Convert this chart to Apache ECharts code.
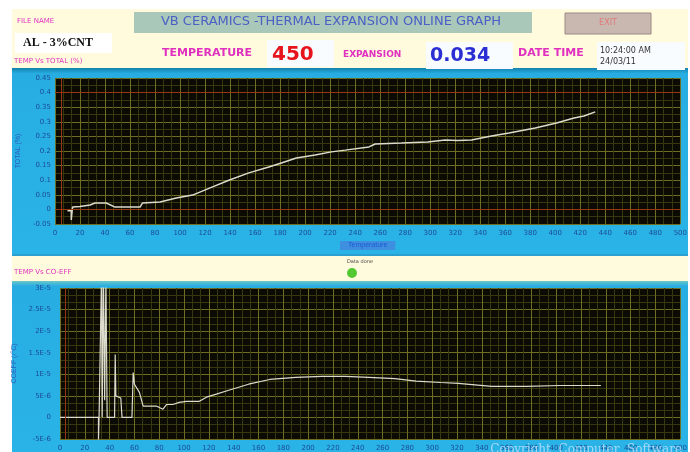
<!DOCTYPE html>
<html>
<head>
<meta charset="utf-8">
<script src="https://cdn.jsdelivr.net/npm/echarts/dist/echarts.min.js"></script>
<style>
  html, body { margin: 0; padding: 0; background: #fff; }
  #main { width: 690px; height: 452px; }
</style>
</head>
<body>
<div id="main"></div>
<script>
// temperature vs total expansion (%)
const tempTotal = [10, 13, 13, 14, 20, 28, 32, 41, 48, 68, 70, 84, 97, 110, 126, 139, 155, 171, 181, 193, 208, 221, 232, 251, 256, 277, 298, 312, 322, 333, 349, 363, 384, 401, 415, 423, 432]
const totalVals = [-0.005, -0.005, -0.036, 0.008, 0.01, 0.015, 0.022, 0.022, 0.008, 0.008, 0.022, 0.025, 0.039, 0.049, 0.077, 0.1, 0.125, 0.145, 0.159, 0.176, 0.186, 0.197, 0.203, 0.214, 0.224, 0.227, 0.231, 0.238, 0.236, 0.238, 0.251, 0.262, 0.279, 0.296, 0.313, 0.32, 0.334]

// temperature vs co-efficient (x 1E-6)
const tempCoeff = [0, 31, 31, 31.5, 33, 33.5, 34, 35, 36, 37, 38, 44, 44.5, 45, 49, 50, 50, 58, 59, 60, 64, 67, 78, 83, 86, 91, 96, 102, 112, 118, 126, 136, 152, 169, 190, 211, 230, 249, 270, 287, 307, 321, 348, 376, 403, 436]
const coeffVals = [0, 0, -5.5, 0, 0, 34, 0, 34, 4, 32, 0, 0, 14.6, 5, 4.5, 4.5, 0, 0, 10.4, 7.7, 5.8, 2.6, 2.6, 1.9, 3, 3, 3.5, 3.7, 3.7, 4.7, 5.4, 6.3, 7.7, 8.8, 9.3, 9.5, 9.5, 9.3, 9.0, 8.4, 8.1, 7.9, 7.2, 7.2, 7.4, 7.4]

const header = {
  fileName: 'AL - 3%CNT',
  title: 'VB CERAMICS -THERMAL EXPANSION ONLINE GRAPH',
  temperature: '450',
  expansion: '0.034',
  time: '10:24:00 AM',
  date: '24/03/11'
}

const pink = '#e030c0'
const labelBlue = '#1d4b95'
const majorGrid = '#6e6e22'
const minorGrid = '#38380f'

const coeffFmt = function (v) {
  if (v === 0) return '0'
  if (Math.abs(v) < 10) return v + 'E-6'
  return (v / 10) + 'E-5'
}

const toPairs = (xs, ys) => xs.map((x, i) => [x, ys[i]])

const xAxisBase = (idx) => ({
  gridIndex: idx,
  type: 'value',
  min: 0,
  max: 500,
  interval: 20,
  axisLine: { show: false },
  axisTick: { show: false },
  axisLabel: { color: labelBlue, fontSize: 7, margin: 6, fontFamily: 'DejaVu Sans' },
  splitLine: { show: true, lineStyle: { color: majorGrid, width: 1 } },
  minorTick: { show: false, splitNumber: 3 },
  minorSplitLine: { show: true, lineStyle: { color: minorGrid, width: 1 } }
})

const redLine = {
  symbol: 'none',
  silent: true,
  label: { show: false },
  lineStyle: { color: '#9a3414', type: 'solid', width: 1 }
}

const chart = echarts.init(document.getElementById('main'))
chart.setOption({
  animation: false,
  backgroundColor: '#ffffff',
  grid: [
    { left: 55, top: 78, width: 628, height: 146, show: true, backgroundColor: '#0b0b04', borderWidth: 0 },
    { left: 60, top: 288, width: 623, height: 152, show: true, backgroundColor: '#0b0b04', borderWidth: 0 }
  ],
  xAxis: [
    Object.assign(xAxisBase(0), {
      name: 'Temperature',
      nameLocation: 'middle',
      nameGap: 17,
      nameTextStyle: { color: '#1f5ad0', fontSize: 7, backgroundColor: '#3f8fe0', padding: [1, 8] }
    }),
    xAxisBase(1)
  ],
  yAxis: [
    {
      gridIndex: 0,
      type: 'value',
      min: -0.05,
      max: 0.45,
      interval: 0.05,
      name: 'TOTAL (%)',
      nameLocation: 'middle',
      nameGap: 30,
      nameTextStyle: { color: '#2a62c0', fontSize: 7 },
      axisLine: { show: false },
      axisTick: { show: false },
      axisLabel: { color: labelBlue, fontSize: 7, margin: 4, fontFamily: 'DejaVu Sans' },
      splitLine: { show: true, lineStyle: { color: majorGrid } },
      minorTick: { show: false, splitNumber: 2 },
      minorSplitLine: { show: true, lineStyle: { color: minorGrid } }
    },
    {
      gridIndex: 1,
      type: 'value',
      min: -5,
      max: 30,
      interval: 5,
      name: 'COEFF (/°C)',
      nameLocation: 'middle',
      nameGap: 35,
      nameTextStyle: { color: '#2a62c0', fontSize: 7 },
      axisLine: { show: false },
      axisTick: { show: false },
      axisLabel: { color: labelBlue, fontSize: 7, margin: 9, formatter: coeffFmt, fontFamily: 'DejaVu Sans' },
      splitLine: { show: true, lineStyle: { color: majorGrid } },
      minorTick: { show: false, splitNumber: 3 },
      minorSplitLine: { show: true, lineStyle: { color: minorGrid } }
    }
  ],
  series: [
    {
      name: 'TOTAL',
      type: 'line',
      xAxisIndex: 0,
      yAxisIndex: 0,
      data: toPairs(tempTotal, totalVals),
      showSymbol: false,
      lineStyle: { color: '#dcdccc', width: 1.5 },
      markLine: Object.assign({ data: [{ yAxis: 0 }, { yAxis: 0.4 }, { xAxis: 5 }] }, redLine)
    },
    {
      name: 'CO-EFF',
      type: 'line',
      xAxisIndex: 1,
      yAxisIndex: 1,
      data: toPairs(tempCoeff, coeffVals),
      showSymbol: false,
      clip: true,
      lineStyle: { color: '#dcdccc', width: 1.2 },
      markLine: Object.assign({ data: [{ xAxis: 4 }] }, redLine)
    }
  ],
  graphic: [
    // panels
    { type: 'rect', z: -10, shape: { x: 12, y: 9, width: 676, height: 60 }, style: { fill: '#fffbdc' } },
    {
      type: 'rect', z: -10, shape: { x: 12, y: 68, width: 676, height: 186 },
      style: { fill: new echarts.graphic.LinearGradient(0, 0, 0, 1, [
        { offset: 0, color: '#1380ad' }, { offset: 0.03, color: '#27ade2' }, { offset: 1, color: '#2ab3e6' }
      ]) }
    },
    { type: 'rect', z: -10, shape: { x: 12, y: 254, width: 676, height: 27 }, style: { fill: '#fffbdc' } },
    { type: 'rect', z: -10, shape: { x: 12, y: 254, width: 676, height: 2 }, style: { fill: '#2a9fd0' } },
    {
      type: 'rect', z: -10, shape: { x: 12, y: 281, width: 676, height: 171 },
      style: { fill: new echarts.graphic.LinearGradient(0, 0, 0, 1, [
        { offset: 0, color: '#6cc8c8' }, { offset: 0.03, color: '#27ade2' }, { offset: 1, color: '#2ab3e6' }
      ]) }
    },
    // header boxes
    { type: 'rect', z: 5, shape: { x: 15, y: 33, width: 97, height: 20 }, style: { fill: '#ffffff' } },
    { type: 'rect', z: 5, shape: { x: 134, y: 12, width: 398, height: 21 }, style: { fill: '#aac8ba' } },
    { type: 'rect', z: 5, shape: { x: 565, y: 13, width: 86, height: 21 }, style: { fill: '#c8b8b0', stroke: '#9a8a84', lineWidth: 1 } },
    { type: 'rect', z: 5, shape: { x: 267, y: 40, width: 67, height: 27 }, style: { fill: '#f8fcff' } },
    { type: 'rect', z: 5, shape: { x: 426, y: 42, width: 87, height: 27 }, style: { fill: '#f8fcff' } },
    { type: 'rect', z: 5, shape: { x: 597, y: 42, width: 88, height: 28 }, style: { fill: '#f8fcff' } },
    // header texts
    { type: 'text', z: 10, style: { text: 'FILE NAME', x: 17, y: 21, fill: pink, font: '7px "DejaVu Sans"', textVerticalAlign: 'middle' } },
    { type: 'text', z: 10, style: { text: header.fileName, x: 23, y: 43, fill: '#111', font: 'bold 12px "Liberation Serif"', textVerticalAlign: 'middle' } },
    { type: 'text', z: 10, style: { text: 'TEMP Vs TOTAL (%)', x: 14, y: 61, fill: pink, font: '7px "DejaVu Sans"', textVerticalAlign: 'middle' } },
    { type: 'text', z: 10, style: { text: header.title, x: 331, y: 22, fill: '#4a60c4', font: '13px "DejaVu Sans"', textAlign: 'center', textVerticalAlign: 'middle' } },
    { type: 'text', z: 10, style: { text: 'EXIT', x: 608, y: 23, fill: '#e07a7a', font: '8px "DejaVu Sans"', textAlign: 'center', textVerticalAlign: 'middle' } },
    { type: 'text', z: 10, style: { text: 'TEMPERATURE', x: 162, y: 53, fill: pink, font: 'bold 11px "DejaVu Sans"', textVerticalAlign: 'middle' } },
    { type: 'text', z: 10, style: { text: header.temperature, x: 272, y: 55, fill: '#e8141c', font: 'bold 20px "DejaVu Sans"', textVerticalAlign: 'middle' } },
    { type: 'text', z: 10, style: { text: 'EXPANSION', x: 343, y: 55, fill: pink, font: 'bold 9px "DejaVu Sans"', textVerticalAlign: 'middle' } },
    { type: 'text', z: 10, style: { text: header.expansion, x: 430, y: 56, fill: '#2b2ed2', font: 'bold 19px "DejaVu Sans"', textVerticalAlign: 'middle' } },
    { type: 'text', z: 10, style: { text: 'DATE TIME', x: 518, y: 53, fill: pink, font: 'bold 11px "DejaVu Sans"', textVerticalAlign: 'middle' } },
    { type: 'text', z: 10, style: { text: header.time, x: 600, y: 51, fill: '#333', font: '8px "DejaVu Sans"', textVerticalAlign: 'middle' } },
    { type: 'text', z: 10, style: { text: header.date, x: 600, y: 62, fill: '#333', font: '8px "DejaVu Sans"', textVerticalAlign: 'middle' } },
    // middle strip
    { type: 'text', z: 10, style: { text: 'TEMP Vs CO-EFF', x: 14, y: 272, fill: pink, font: '7px "DejaVu Sans"', textVerticalAlign: 'middle' } },
    { type: 'text', z: 10, style: { text: 'Data done', x: 347, y: 262, fill: '#444', font: '5px "DejaVu Sans"', textVerticalAlign: 'middle' } },
    { type: 'circle', z: 10, shape: { cx: 352, cy: 273, r: 5 }, style: { fill: '#52c832' } },
    // watermark
    { type: 'text', z: 50, style: { text: 'Copyright  Computer  Software', x: 682, y: 450, fill: 'rgba(200,230,255,0.75)', font: '12px "DejaVu Serif"', textAlign: 'right', textVerticalAlign: 'middle' } }
  ]
})
</script>
</body>
</html>
